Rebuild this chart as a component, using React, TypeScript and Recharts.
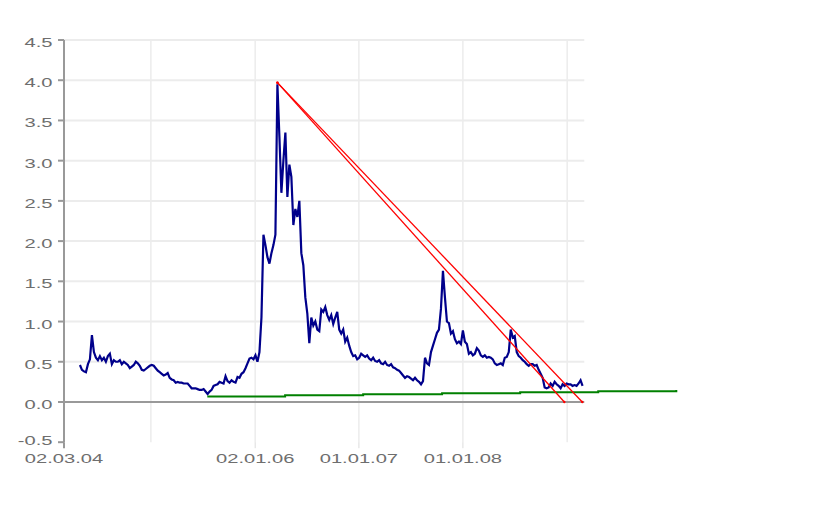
import { LineChart, Line, XAxis, YAxis, ReferenceLine } from "recharts";

const DAY = 86400000;
const toMs = (s: string) => Date.parse(s + "T00:00:00Z");

// weekly closing prices, first observation 27.04.04
const priceStart = "2004-04-27";
const weeklyPrices = [
  0.46, 0.40, 0.38, 0.37, 0.47, 0.53, 0.83, 0.62, 0.55, 0.52, 0.57, 0.52,
  0.55, 0.50, 0.57, 0.60, 0.47, 0.52, 0.50, 0.50, 0.52, 0.47, 0.50, 0.48,
  0.46, 0.42, 0.44, 0.46, 0.50, 0.48, 0.45, 0.40, 0.39, 0.41, 0.43, 0.45,
  0.46, 0.45, 0.42, 0.39, 0.37, 0.35, 0.33, 0.34, 0.36, 0.30, 0.28, 0.27,
  0.24, 0.25, 0.24, 0.24, 0.23, 0.23, 0.23, 0.20, 0.17, 0.17, 0.17, 0.16,
  0.15, 0.15, 0.16, 0.13, 0.10, 0.13, 0.15, 0.20, 0.21, 0.22, 0.25, 0.24,
  0.23, 0.32, 0.26, 0.24, 0.27, 0.25, 0.24, 0.31, 0.30, 0.35, 0.37, 0.42,
  0.48, 0.54, 0.55, 0.53, 0.58, 0.50, 0.62, 1.05, 2.08, 1.95, 1.80, 1.72,
  1.85, 1.95, 2.08, 3.95, 3.30, 2.60, 3.00, 3.35, 2.55, 2.95, 2.80, 2.20,
  2.40, 2.30, 2.50, 1.85, 1.70, 1.30, 1.10, 0.73, 1.05, 0.95, 1.00, 0.90,
  0.88, 1.15, 1.12, 1.18, 1.08, 1.02, 1.08, 0.97, 1.05, 1.12, 0.90, 0.85,
  0.90, 0.75, 0.80, 0.70, 0.62, 0.57, 0.58, 0.53, 0.55, 0.60, 0.58, 0.56,
  0.58, 0.54, 0.52, 0.55, 0.51, 0.50, 0.52, 0.48, 0.47, 0.50, 0.46, 0.45,
  0.47, 0.43, 0.42, 0.40, 0.39, 0.36, 0.33, 0.30, 0.32, 0.31, 0.29, 0.27,
  0.30, 0.27, 0.25, 0.22, 0.26, 0.55, 0.48, 0.46, 0.62, 0.70, 0.78, 0.86,
  0.90, 1.16, 1.63, 1.30, 1.00, 0.98, 0.85, 0.88, 0.78, 0.73, 0.75, 0.72,
  0.89, 0.75, 0.72, 0.60, 0.62, 0.58, 0.60, 0.67, 0.64, 0.58, 0.56, 0.58,
  0.55, 0.56, 0.55, 0.53, 0.48, 0.46, 0.47, 0.48, 0.46, 0.55, 0.56, 0.62,
  0.90, 0.80, 0.82, 0.62, 0.57, 0.55, 0.52, 0.50, 0.47, 0.45, 0.47, 0.47,
  0.45, 0.46, 0.40, 0.35, 0.30, 0.18, 0.17, 0.18, 0.23, 0.20, 0.25, 0.22,
  0.20, 0.17, 0.22, 0.20, 0.23, 0.22, 0.22, 0.20, 0.21, 0.20, 0.23, 0.27, 0.20,
];

// green floor line (steps)
const floorDates = ["2005-07-18", "2006-04-17", "2007-01-16", "2007-10-20", "2008-07-20", "2009-04-20", "2010-01-19"];
const floorValues = [0.068, 0.085, 0.097, 0.11, 0.122, 0.134, 0.15];

// red trend lines from the top
const trendDatesA = ["2006-03-21", "2008-12-22"];
const trendDatesB = ["2006-03-21", "2009-02-23"];
const trendValues = [3.97, 0];

const tickDates = ["2004-03-02", "2005-01-01", "2006-01-02", "2007-01-01", "2008-01-01", "2009-01-01"];
const tickShown = [true, false, true, true, true, false];
const yTicks = [-0.5, 0, 0.5, 1, 1.5, 2, 2.5, 3, 3.5, 4, 4.5];

const gridEnd = "2009-03-02";
const domainEnd = "2010-01-19";

const priceData = weeklyPrices.map((p, i) => ({ t: toMs(priceStart) + i * 7 * DAY, price: p }));
const floorData = floorDates.map((d, i) => ({ t: toMs(d), floor: floorValues[i] }));
const trendA = trendDatesA.map((d, i) => ({ t: toMs(d), trend: trendValues[i] }));
const trendB = trendDatesB.map((d, i) => ({ t: toMs(d), trend: trendValues[i] }));
const xTicks = tickDates.map(toMs);

const FONT = "'Liberation Sans', Arial, sans-serif";

const fmtDate = (ms: number) => {
  const d = new Date(ms);
  const p = (n: number) => String(n).padStart(2, "0");
  return `${p(d.getUTCDate())}.${p(d.getUTCMonth() + 1)}.${p(d.getUTCFullYear() % 100)}`;
};

const XTick = (props: any) => {
  const { x, y, payload } = props;
  const idx = xTicks.indexOf(payload.value);
  if (idx < 0 || !tickShown[idx]) return null;
  return (
    <g>
      <line x1={x} x2={x} y1={y - 6} y2={y} stroke={idx === 0 ? "#999" : "#dcdcdc"} strokeWidth={idx === 0 ? 2 : 1} />
      <text transform={`translate(${x},${y + 14.3}) scale(1.55,1)`} textAnchor="middle"
            fontSize={13} fontFamily={FONT} fill="#6e6e6e">{fmtDate(payload.value)}</text>
    </g>
  );
};

const YTick = (props: any) => {
  const { x, y, payload } = props;
  const lift = payload.value < 0 ? 4 : 0; // bottom label sits a bit higher
  return (
    <text transform={`translate(${x - 5.5},${y + 7 - lift}) scale(1.55,1)`} textAnchor="end"
          fontSize={13} fontFamily={FONT} fill="#6e6e6e">{payload.value.toFixed(1)}</text>
  );
};

export default function App() {
  const t0 = toMs(tickDates[0]);
  const t1 = toMs(gridEnd);
  return (
    <LineChart width={832} height={509} margin={{ top: 32, right: 163.7, bottom: 44.8, left: 0 }}>
      {xTicks.slice(1).map(t => (
        <ReferenceLine key={t} segment={[{ x: t, y: -0.5 }, { x: t, y: 4.5 }]} stroke="#ececec" strokeWidth={1.5} />
      ))}
      {yTicks.filter(v => v > 0).map(v => (
        <ReferenceLine key={v} segment={[{ x: t0, y: v }, { x: t1, y: v }]} stroke="#ececec" strokeWidth={2} />
      ))}
      <ReferenceLine segment={[{ x: t0, y: 0 }, { x: t1, y: 0 }]} stroke="#999" strokeWidth={2} />
      <XAxis type="number" dataKey="t" domain={[t0, toMs(domainEnd)]} ticks={xTicks} interval={0}
             axisLine={false} tickLine={false} tickSize={6} tickMargin={0} height={30} tick={<XTick />} />
      <YAxis type="number" domain={[-0.5, 4.5]} ticks={yTicks} interval={0} width={56}
             axisLine={{ stroke: "#999", strokeWidth: 2 }} tickLine={{ stroke: "#999", strokeWidth: 2 }}
             tickSize={6} tickMargin={0} tick={<YTick />} />
      <Line data={priceData} dataKey="price" type="linear" stroke="#00008b" strokeWidth={2.2} dot={false} isAnimationActive={false} />
      <Line data={floorData} dataKey="floor" type="stepAfter" stroke="#008000" strokeWidth={2} dot={false} isAnimationActive={false} />
      <Line data={trendA} dataKey="trend" type="linear" stroke="#ff0000" strokeWidth={1.3} dot={{ r: 1.2, fill: "#ff0000", stroke: "none" }} isAnimationActive={false} />
      <Line data={trendB} dataKey="trend" type="linear" stroke="#ff0000" strokeWidth={1.3} dot={{ r: 1.2, fill: "#ff0000", stroke: "none" }} isAnimationActive={false} />
    </LineChart>
  );
}
